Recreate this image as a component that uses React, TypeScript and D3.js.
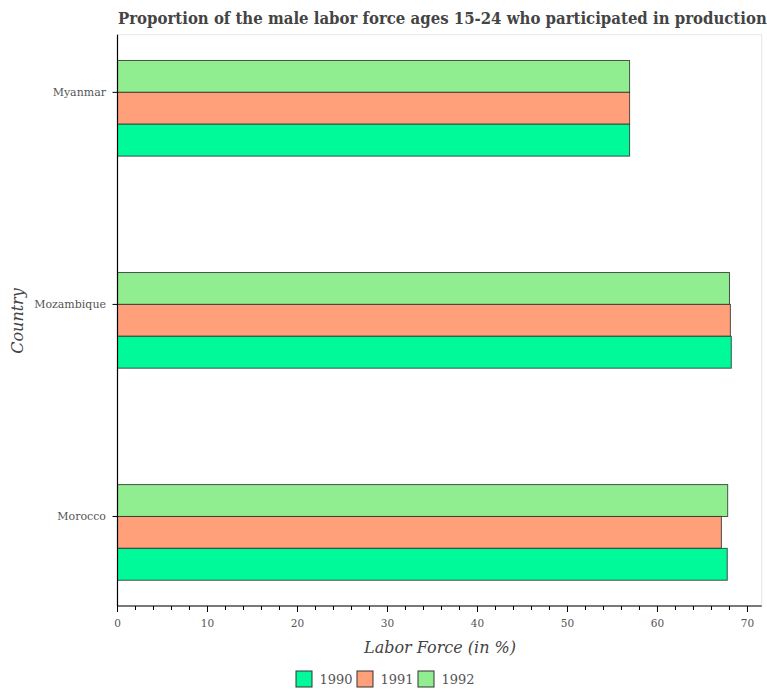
import React from "react";
import * as d3 from "d3";

const countries = ["Myanmar", "Mozambique", "Morocco"];
const years = ["1992", "1991", "1990"];
const legendYears = ["1990", "1991", "1992"];
const values1990 = [56.9, 68.2, 67.75];
const values1991 = [56.9, 68.1, 67.1];
const values1992 = [56.9, 68.0, 67.8];
const yearColors: Record<string, string> = { "1990": "#00FA9A", "1991": "#FFA07A", "1992": "#90EE90" };
const xTicks = [0, 10, 20, 30, 40, 50, 60, 70];
const titleText = "Proportion of the male labor force ages 15-24 who participated in production";

const W = 767;
const H = 700;
const left = 117.5;
const right = 761.7;
const top = 34.7;
const bottom = 606;

export default function App() {
  const x = d3.scaleLinear().domain([0, 71.58]).range([left, right]);
  const y = d3
    .scaleBand<string>()
    .domain(countries)
    .range([top, bottom])
    .paddingInner(0.549)
    .paddingOuter(0.1215);
  const yi = d3.scaleBand<string>().domain(years).range([0, y.bandwidth()]).padding(0);
  const seriesMap: Record<string, number[]> = { "1990": values1990, "1991": values1991, "1992": values1992 };
  const minorTicks = d3.range(0, 71, 2).filter((v) => v % 10 !== 0);
  const font = "'DejaVu Serif', serif";

  return (
    <svg
      width={W}
      height={H}
      style={{ position: "absolute", left: 0, top: 0, background: "#fff" }}
    >
      <text
        x={118}
        y={24}
        fontFamily="'DejaVu Serif Condensed', 'DejaVu Serif', serif"
        fontStretch="condensed"
        fontWeight="bold"
        fontSize={16.6}
        fill="#444"
      >
        {titleText}
      </text>
      <rect x={left} y={top} width={right - left} height={bottom - top} fill="#fff" stroke="#e6e6e6" strokeWidth={1} />
      {countries.map((c, ci) =>
        years.map((yr) => (
          <rect
            key={c + yr}
            x={x(0)}
            y={(y(c) as number) + (yi(yr) as number)}
            width={x(seriesMap[yr][ci]) - x(0)}
            height={yi.bandwidth()}
            fill={yearColors[yr]}
            stroke="#333"
            strokeOpacity={0.85}
            strokeWidth={1}
          />
        ))
      )}
      {/* y axis */}
      <line x1={left} x2={left} y1={top} y2={bottom} stroke="#000" strokeWidth={1.2} />
      {countries.map((c) => {
        const ty = (y(c) as number) + y.bandwidth() / 3;
        return (
          <g key={c}>
            <line x1={left - 5} x2={left} y1={ty} y2={ty} stroke="#000" strokeWidth={1} />
            <text x={106} y={ty} dy="0.35em" textAnchor="end" fontFamily={font} fontSize={11} fill="#555">
              {c}
            </text>
          </g>
        );
      })}
      {/* x axis */}
      <line x1={left} x2={right} y1={bottom} y2={bottom} stroke="#000" strokeWidth={1.2} />
      {minorTicks.map((t) => (
        <line key={"m" + t} x1={x(t)} x2={x(t)} y1={bottom} y2={bottom + 4} stroke="#000" strokeWidth={1} />
      ))}
      {xTicks.map((t) => (
        <g key={t}>
          <line x1={x(t)} x2={x(t)} y1={bottom} y2={bottom + 6} stroke="#000" strokeWidth={1} />
          <text x={x(t)} y={627} textAnchor="middle" fontFamily={font} fontSize={10.5} fill="#555">
            {t}
          </text>
        </g>
      ))}
      <text x={440} y={653} textAnchor="middle" fontFamily={font} fontStyle="italic" fontSize={16} fill="#444">
        Labor Force (in %)
      </text>
      <text
        transform={`translate(23, 321) rotate(-90)`}
        textAnchor="middle"
        fontFamily={font}
        fontStyle="italic"
        fontSize={16}
        fill="#444"
      >
        Country
      </text>
      {/* legend */}
      {legendYears.map((yr, i) => (
        <g key={"l" + yr} transform={`translate(${296 + i * 61}, 671)`}>
          <rect x={0} y={0} width={16} height={16} fill={yearColors[yr]} stroke="#333" strokeWidth={1} />
          <text x={23.5} y={13} fontFamily={font} fontSize={13} fill="#555">
            {yr}
          </text>
        </g>
      ))}
    </svg>
  );
}
